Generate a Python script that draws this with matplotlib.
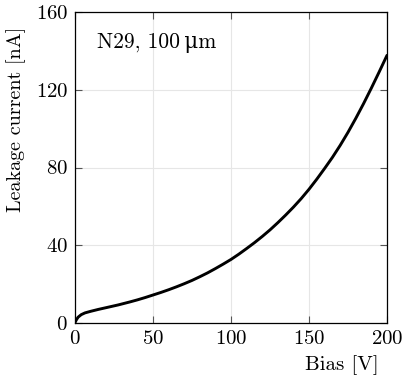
import numpy as np
import matplotlib
matplotlib.use("Agg")
import matplotlib.pyplot as plt

plt.rcParams["font.family"] = ["cmr10", "DejaVu Serif"]
plt.rcParams["mathtext.fontset"] = "cm"
plt.rcParams["axes.formatter.use_mathtext"] = True

# leakage current vs bias
bias = [0, 1, 2, 4, 6.4, 10, 15, 20, 27.7, 35, 40, 45, 50, 55, 60, 65, 70, 75, 80, 85,
        90, 95, 100, 105, 110, 115, 120, 125, 130, 135, 140, 145, 150, 155, 160, 165,
        170, 175, 180, 185, 190, 195, 200]
current = [0.3, 1.8, 3.0, 4.3, 5.2, 6.0, 7.0, 7.9, 9.3, 10.8, 11.9, 13.1, 14.4, 15.7,
           17.1, 18.6, 20.2, 21.9, 23.8, 25.8, 28.0, 30.3, 32.7, 35.4, 38.3, 41.3, 44.5,
           47.9, 51.6, 55.5, 59.6, 64.0, 68.8, 74.0, 79.5, 85.2, 91.4, 98.1, 105.3,
           112.9, 120.9, 129.2, 137.7]

fig = plt.figure(figsize=(4.07, 3.85), dpi=100)
ax = fig.add_axes([75 / 407, 62 / 385, 312 / 407, 311 / 385])

ax.plot(bias, current, color="k", linewidth=2.1, solid_capstyle="round",
        solid_joinstyle="round")
ax.set_xlim(0, 200)
ax.set_ylim(0, 160)
ax.set_xticks([0, 50, 100, 150, 200])
ax.set_yticks([0, 40, 80, 120, 160])
ax.grid(True, color="#e6e6e6", linewidth=0.8)
ax.set_axisbelow(True)
ax.tick_params(direction="in", top=True, right=True, length=5, width=0.8,
               color="#555555", labelsize=15, pad=5)
for s in ax.spines.values():
    s.set_linewidth(0.9)

ax.set_xlabel("Bias [V]", fontsize=15)
ax.xaxis.set_label_coords(0.855, -0.105)
ax.set_ylabel("Leakage current [nA]", fontsize=14.5, va="top")
ax.yaxis.set_label_coords(-0.221, 0.656)

ax.text(0.07, 0.90, "N29, 100\u2009\u03bcm", transform=ax.transAxes, fontsize=15.5,
        va="center", ha="left")

fig.savefig("out.png", dpi=100)
